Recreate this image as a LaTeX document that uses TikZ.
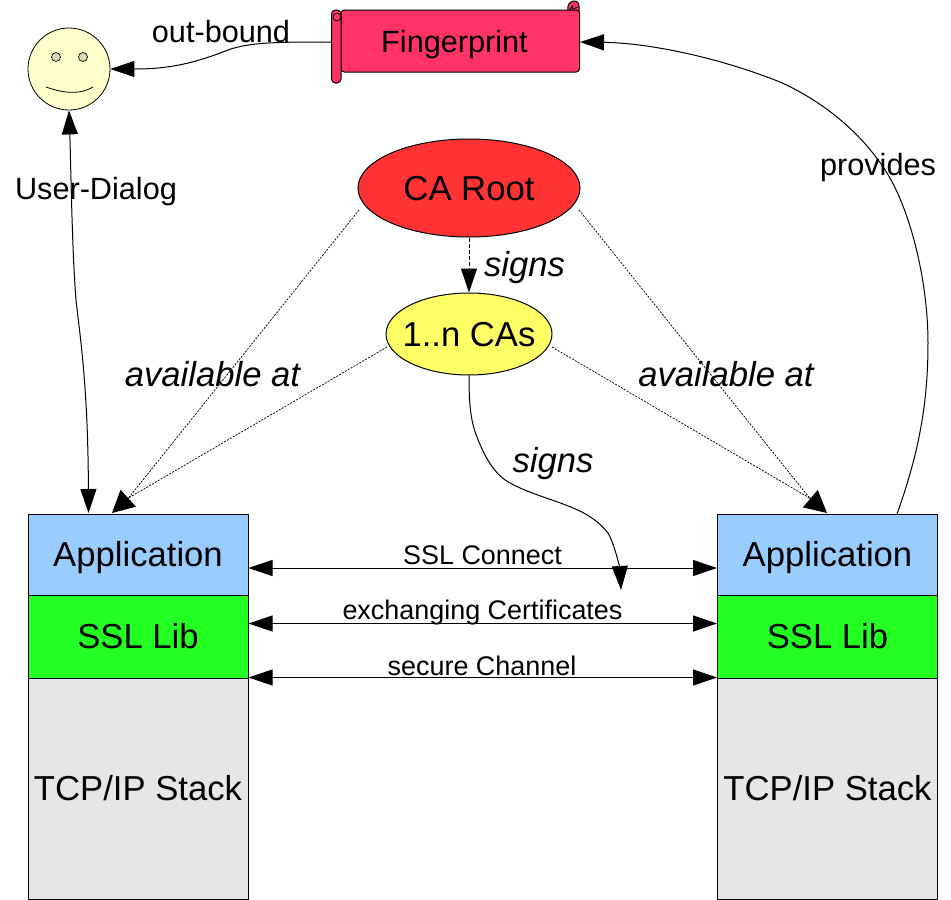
\documentclass[tikz,border=0pt]{standalone}
\usepackage{fontspec}
\setmainfont{Liberation Sans}
\usetikzlibrary{arrows.meta,shapes.geometric}
\tikzset{
  x=0.75pt,y=-0.75pt,
  link/.style={line width=0.75pt,-{Triangle[length=18pt,width=12pt]}},
  both/.style={line width=0.75pt,{Triangle[length=18pt,width=12pt]}-{Triangle[length=18pt,width=12pt]}},
  dots/.style={line width=0.55pt,dash pattern=on 1.5pt off 1pt},
  bighead/.style={line width=0.75pt,-{Triangle[length=16.5pt,width=17pt]}},
  dash2/.style={link,dash pattern=on 3pt off 1.5pt},
  layer/.style={draw=black,line width=0.75pt,inner sep=0pt,minimum width=165pt,text height=18.6pt,text depth=0pt,font=\fontsize{26}{26}\selectfont},
  oval/.style={ellipse,draw=black,line width=0.75pt,inner xsep=-8pt,inner ysep=0pt,text height=18.6pt,text depth=0pt,font=\fontsize{26}{26}\selectfont},
  big/.style={font=\fontsize{26}{26}\selectfont\itshape},
  small/.style={font=\fontsize{20.2}{20.2}\selectfont},
  mid/.style={font=\fontsize{23}{23}\selectfont},
}
\definecolor{cblue}{HTML}{99CCFF}
\definecolor{cgreen}{HTML}{23FF23}
\definecolor{cgrey}{HTML}{E6E6E6}
\definecolor{cred}{HTML}{FF3333}
\definecolor{cyel}{HTML}{FFFF66}
\definecolor{cpink}{HTML}{FF3366}
\definecolor{cface}{HTML}{FFFFCC}
\definecolor{ceye}{HTML}{D9D9B8}
\begin{document}
\begin{tikzpicture}
\useasboundingbox (0,0) rectangle (951,900);
% stacks
\node[layer,fill=cblue,minimum height=60.75pt] (appL) at (138,554.5) {Application};
\node[layer,fill=cgreen,minimum height=62.25pt] (sslL) at (138,636.5) {SSL Lib};
\node[layer,fill=cgrey,minimum height=165.75pt] (tcpL) at (138,788.5) {TCP/IP Stack};
\node[layer,fill=cblue,minimum height=60.75pt] (appR) at (827.5,554.5) {Application};
\node[layer,fill=cgreen,minimum height=62.25pt] (sslR) at (827.5,636.5) {SSL Lib};
\node[layer,fill=cgrey,minimum height=165.75pt] (tcpR) at (827.5,788.5) {TCP/IP Stack};
% ovals
\node[oval,fill=cred,minimum width=166.5pt,minimum height=73.5pt] (root) at (469,188) {CA Root};
\node[oval,fill=cyel,minimum width=124.5pt,minimum height=61.5pt] (cas) at (469,334) {1..n CAs};
\node[ellipse,draw=black,line width=0.6pt,fill=cface,inner sep=0pt,minimum width=61.5pt,minimum height=61.5pt] (face) at (69,69) {};
\fill[ceye,draw=black,line width=0.5pt] (56,57) circle[radius=4.5];
\fill[ceye,draw=black,line width=0.5pt] (83,57) circle[radius=4.5];
\draw[line width=0.6pt] (46,87) .. controls (60,92) and (78,96) .. (93,87);
% scroll
\fill[cpink,draw=black,line width=0.75pt] (568,10) .. controls (566,0) and (579,-2) .. (579,6) -- (579,12) -- (574,12) -- cycle;
\fill[cpink,draw=black,line width=0.75pt,rounded corners=2.5pt] (341,10) -- (579.5,10) -- (579.5,72) -- (341,72) -- cycle;
\draw[line width=0.6pt] (570,10) -- (572,6) -- (573,9) -- (578,7);
\draw[fill=cpink,line width=0.75pt,rounded corners=3pt] (331.5,10) -- (341,10) -- (341,83) -- (331.5,83) -- cycle;
\draw[line width=0.6pt] (333,17) .. controls (333,12) and (341,12) .. (341,17) .. controls (341,22) and (333,22) .. (333,17);
\node[inner sep=0pt,font=\fontsize{23}{23}\selectfont] (fp) at (454.5,44.5) {Fingerprint};
\coordinate (fpL) at (331,42);
\coordinate (fpR) at (580,42);
\coordinate (rootL) at (359,210);
\coordinate (rootR) at (579,210);
\coordinate (casL) at (387,347);
\coordinate (casR) at (552,347);
\coordinate (baseL) at (128.5,498);
\coordinate (tipL) at (112,513);
\coordinate (baseR) at (809.5,498);
\coordinate (tipR) at (827,513);
\coordinate (provStart) at (897,514);
\coordinate (dialogEnd) at (88.5,513);
\coordinate (signsEnd) at (621,590);
% connectors
\draw[link] (fpL) .. controls (280,42) and (250,42) .. (228,50) .. controls (195,63) and (170,69) .. (face.east);
\draw[both] (face.south) .. controls (71,170) and (72,250) .. (76,300) .. controls (79,330) and (88,380) .. (dialogEnd);
\draw[link] (provStart) .. controls (920,450) and (928,400) .. (928,343) .. controls (928,280) and (910,210) .. (887,173) .. controls (860,130) and (820,100) .. (780,82) .. controls (720,58) and (650,43) .. (fpR);
\draw[dash2] (root.south) -- (cas.north);
\draw[dots] (rootL) -- (baseL);
\draw[dots] (rootR) -- (baseR);
\draw[dots] (casL) -- (baseL);
\draw[dots] (casR) -- (baseR);
\draw[bighead] (baseL) -- (tipL);
\draw[bighead] (baseR) -- (tipR);
\draw[link] (cas.south) .. controls (469,400) and (470,420) .. (477,437) .. controls (485,458) and (495,475) .. (510,483) .. controls (530,494) and (555,500) .. (573,508) .. controls (590,515) and (600,523) .. (608,533) .. controls (615,545) and (620,570) .. (signsEnd);
\draw[both] (appL.east |- 0,568) -- (appR.west |- 0,568);
\draw[both] (sslL.east |- 0,623.5) -- (sslR.west |- 0,623.5);
\draw[both] (tcpL.north east) -- (tcpR.north west);
% labels
\node[mid,inner sep=0pt] (l1) at (221,32) {out-bound};
\node[mid,inner sep=0pt] (l2) at (96,192) {User-Dialog};
\node[mid,inner sep=0pt] (l3) at (878,168) {provides};
\node[big,inner sep=0pt] (l4) at (524.5,268) {signs};
\node[big,inner sep=0pt] (l5) at (553,464) {signs};
\node[big,inner sep=0pt] (l6) at (212.5,374.5) {available at};
\node[big,inner sep=0pt] (l7) at (726,374.5) {available at};
\node[small,inner sep=0pt] (l8) at (482.5,555) {SSL Connect};
\node[small,inner sep=0pt] (l9) at (482.5,613) {exchanging Certificates};
\node[small,inner sep=0pt] (l10) at (482,666) {secure Channel};
\end{tikzpicture}
\end{document}
